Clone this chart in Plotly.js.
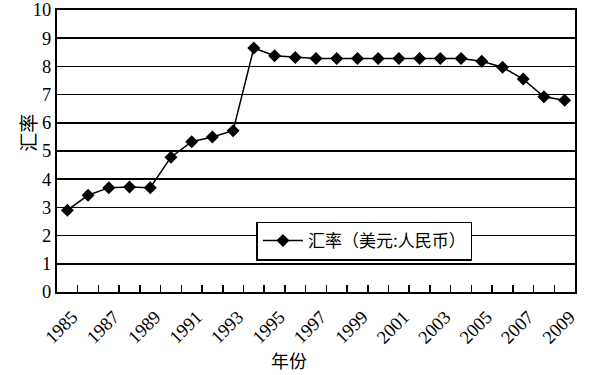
<!DOCTYPE html>
<html>
<head>
<meta charset="utf-8">
<script src="https://cdn.plot.ly/plotly-3.0.1.min.js"></script>
<style>html,body{margin:0;padding:0;background:#fff;}#chart{width:600px;height:375px;}</style>
</head>
<body>
<div id="chart"></div>
<script>
const years = ["1985","1986","1987","1988","1989","1990","1991","1992","1993","1994","1995","1996","1997","1998","1999","2000","2001","2002","2003","2004","2005","2006","2007","2008","2009"];
const rates = [2.9,3.43,3.7,3.72,3.7,4.78,5.33,5.5,5.72,8.65,8.38,8.32,8.28,8.28,8.28,8.28,8.28,8.28,8.28,8.28,8.18,7.97,7.55,6.92,6.8];
const tickLabels = years.map((y, i) => (i % 2 === 0 ? y : ""));
const seriesName = "汇率（美元:人民币）";
const xTitle = "年份";
const yTitle = "汇率";

const serif = "Liberation Serif, Times New Roman, serif";
const cjk = "Noto Sans CJK SC, sans-serif";

const trace = {
  x: years, y: rates, type: "scatter", mode: "lines+markers", name: seriesName,
  line: {color: "#000", width: 1.5},
  marker: {symbol: "diamond", size: 10, color: "#000"}
};

const layout = {
  width: 600, height: 375,
  margin: {l: 57, r: 25, t: 10, b: 83},
  paper_bgcolor: "#fff", plot_bgcolor: "#fff",
  showlegend: true,
  legend: {
    x: 0.385, y: 0.25, xanchor: "left", yanchor: "top",
    bgcolor: "#fff", bordercolor: "#000", borderwidth: 1.5,
    font: {family: cjk, size: 17, color: "#000"},
    itemwidth: 40, tracegroupgap: 0
  },
  xaxis: {
    type: "category",
    range: [-0.5, years.length - 0.5],
    tickvals: years, ticktext: tickLabels,
    tickson: "boundaries",
    ticks: "inside", ticklen: 7, tickwidth: 1.5, tickcolor: "#000",
    tickangle: -45,
    ticklabelshift: 5, ticklabelstandoff: 5,
    tickfont: {family: serif, size: 18.5, color: "#000"},
    showgrid: false, zeroline: false,
    showline: true, linecolor: "#000", linewidth: 2, mirror: true,
    fixedrange: true
  },
  yaxis: {
    range: [0, 10], dtick: 1,
    tickfont: {family: serif, size: 18.5, color: "#000"},
    ticks: "",
    showgrid: true, gridcolor: "#000", gridwidth: 1.5,
    zeroline: false,
    showline: true, linecolor: "#000", linewidth: 2, mirror: true
  },
  annotations: [{
    text: xTitle, xref: "paper", yref: "paper", x: 0.447, y: -0.24,
    xanchor: "center", yanchor: "middle", showarrow: false,
    font: {family: cjk, size: 18, color: "#000"}
  }, {
    text: yTitle, xref: "paper", yref: "paper", x: -0.056, y: 0.565,
    xanchor: "center", yanchor: "middle", showarrow: false, textangle: -90,
    font: {family: cjk, size: 19, color: "#000"}
  }]
};

Plotly.newPlot("chart", [trace], layout, {displayModeBar: false, staticPlot: true});
</script>
</body>
</html>
